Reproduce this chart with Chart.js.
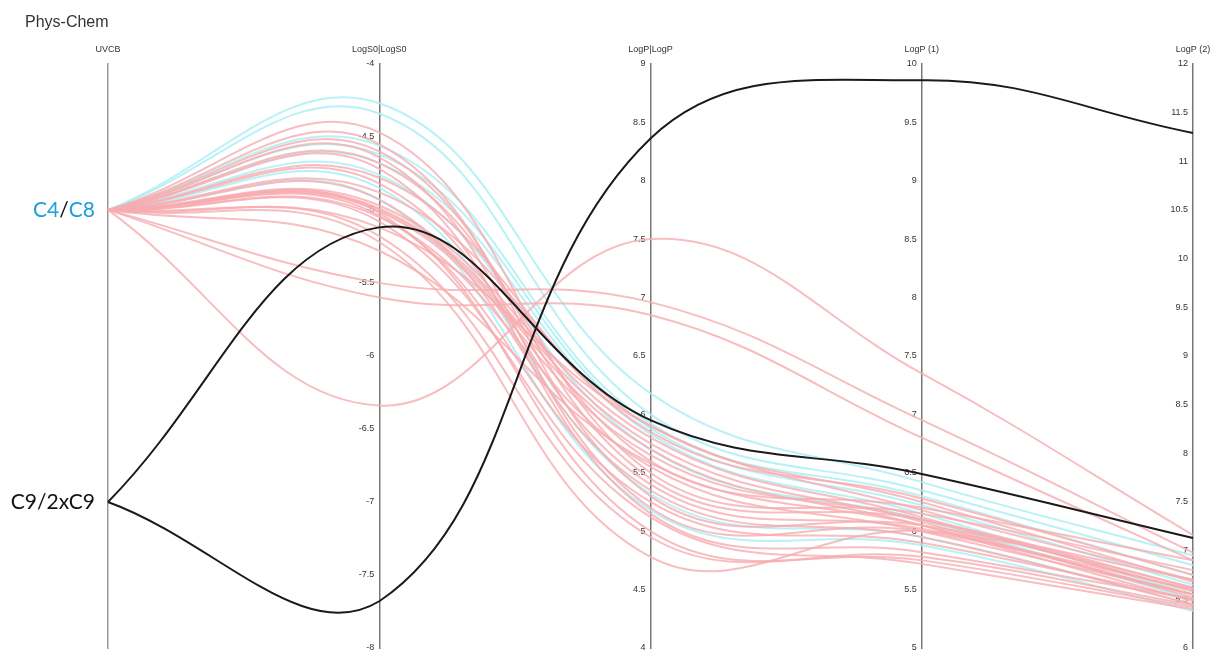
<!DOCTYPE html>
<html>
<head>
<meta charset="utf-8">
<title>Phys-Chem</title>
<script src="https://cdn.jsdelivr.net/npm/chart.js@4.4.1/dist/chart.umd.min.js"></script>
<style>
  html, body { margin: 0; padding: 0; background: #fff; }
  #wrap { position: relative; width: 1210px; height: 650px; }
  #title { position: absolute; left: 25px; top: 13px; font: 16px "Liberation Sans", Arial, sans-serif; color: #333; }
</style>
</head>
<body>
<div id="wrap">
  <canvas id="chart" width="1210" height="650"></canvas>
  <div id="title">Phys-Chem</div>
</div>
<script>
// axes of the parallel plot
const dimensions = ['UVCB', 'LogS0|LogS0', 'LogP|LogP', 'LogP (1)', 'LogP (2)'];
const uvcbGroups = ['C4/C8', 'C9/2xC9'];
const axisMin = [null, -8, 4, 5, 6];
const axisMax = [null, -4, 9, 10, 12];

// one row per compound : UVCB, LogS0, LogP, LogP (1), LogP (2)
const blackRows = [
  ['C9/2xC9', -7.68, 8.36, 9.86, 11.29],
  ['C9/2xC9', -5.12, 5.95, 6.49, 7.13]
];

const cyanRows = [
  ['C4/C8', -4.27, 6.18, 6.42, 6.95],
  ['C4/C8', -4.34, 6.00, 6.35, 6.85],
  ['C4/C8', -4.56, 5.92, 6.30, 6.75],
  ['C4/C8', -4.62, 5.88, 6.22, 6.65],
  ['C4/C8', -4.68, 5.83, 6.15, 6.55],
  ['C4/C8', -4.76, 5.70, 6.10, 6.50],
  ['C4/C8', -4.85, 5.32, 5.95, 6.45],
  ['C4/C8', -4.93, 5.18, 5.88, 6.38]
];

const pinkRows = [
  ['C4/C8', -4.47, 5.50, 6.15, 6.80],
  ['C4/C8', -4.55, 5.30, 6.05, 6.70],
  ['C4/C8', -4.60, 5.45, 6.10, 6.62],
  ['C4/C8', -4.64, 5.20, 6.00, 6.55],
  ['C4/C8', -4.68, 5.60, 6.20, 6.90],
  ['C4/C8', -4.72, 5.15, 5.82, 6.50],
  ['C4/C8', -4.78, 5.85, 6.28, 6.75],
  ['C4/C8', -4.82, 5.40, 6.02, 6.60],
  ['C4/C8', -4.88, 5.90, 6.25, 6.68],
  ['C4/C8', -4.93, 5.35, 5.95, 6.45],
  ['C4/C8', -4.97, 5.80, 6.12, 6.58],
  ['C4/C8', -4.99, 5.75, 6.08, 6.52],
  ['C4/C8', -5.00, 5.70, 6.05, 6.48],
  ['C4/C8', -5.01, 5.65, 6.10, 6.62],
  ['C4/C8', -5.02, 5.00, 5.75, 6.42],
  ['C4/C8', -5.04, 5.25, 5.90, 6.50],
  ['C4/C8', -5.05, 5.55, 6.00, 6.55],
  ['C4/C8', -5.08, 5.12, 5.72, 6.40],
  ['C4/C8', -5.12, 5.90, 6.18, 6.70],
  ['C4/C8', -5.18, 4.95, 5.78, 6.44],
  ['C4/C8', -5.22, 4.78, 6.00, 6.60],
  ['C4/C8', -5.28, 5.58, 6.05, 6.55],
  ['C4/C8', -5.50, 6.96, 6.95, 6.98],
  ['C4/C8', -5.60, 6.85, 6.80, 6.90],
  ['C4/C8', -6.34, 7.50, 7.35, 7.16]
];

const fontFamily = '"Liberation Sans", Arial, sans-serif';

// every axis is brought back to 0..1 so that all lines share one plotting scale
function normalize(row) {
  return row.map((v, i) => {
    if (i === 0) return 1 - (uvcbGroups.indexOf(v) + 0.5) / uvcbGroups.length;
    return (v - axisMin[i]) / (axisMax[i] - axisMin[i]);
  });
}

function makeDataset(row, color, width, order) {
  return {
    data: normalize(row),
    borderColor: color,
    borderWidth: width,
    pointRadius: 0,
    tension: 0.4,
    fill: false,
    clip: false,
    order: order,
    xAxisID: 'x',
    yAxisID: 'yn'
  };
}

const datasets = [
  ...blackRows.map(r => makeDataset(r, '#1a1a1a', 2, 0)),
  ...pinkRows.map(r => makeDataset(r, 'rgba(246, 172, 176, 0.8)', 2, 1)),
  ...cyanRows.map(r => makeDataset(r, 'rgba(172, 238, 244, 0.85)', 2, 1))
];

const noPadY = s => { s.paddingTop = 0; s.paddingBottom = 0; };

const scales = {
  x: {
    type: 'category',
    labels: dimensions,
    position: 'top',
    offset: false,
    grid: { display: false, drawTicks: false },
    border: { display: false },
    ticks: { color: '#333', font: { size: 9, family: fontFamily }, padding: 9, maxRotation: 0, autoSkip: false },
    afterFit: s => { s.paddingLeft = 0; s.paddingRight = 0; }
  },
  yn: { type: 'linear', min: 0, max: 1, display: false },
  y0: {
    type: 'category',
    labels: uvcbGroups,
    offset: true,
    position: { x: 0 },
    grid: { display: false },
    border: { color: '#999', width: 1.5 },
    ticks: { display: false },
    afterFit: noPadY
  }
};

for (let i = 1; i < dimensions.length; i++) {
  scales['y' + i] = {
    type: 'linear',
    min: axisMin[i],
    max: axisMax[i],
    position: { x: i },
    grid: { display: false },
    border: { color: '#777', width: 1.5 },
    ticks: {
      stepSize: 0.5,
      color: '#333',
      font: { size: 9, family: fontFamily },
      callback: v => v + '  '   // a small gap before the axis line
    },
    afterFit: noPadY
  };
}

// group names next to the UVCB axis, C4 and C8 in blue
const groupLabels = {
  id: 'groupLabels',
  afterDraw(chart) {
    const ctx = chart.ctx;
    const scale = chart.scales.y0;
    const right = chart.scales.x.getPixelForValue(0) - 13;
    ctx.save();
    ctx.font = '21px Lato, "Open Sans", sans-serif';
    ctx.textBaseline = 'middle';
    ctx.textAlign = 'left';
    uvcbGroups.forEach((g, i) => {
      const y = scale.getPixelForValue(i);
      const blue = g === 'C4/C8';
      const parts = blue ? g.split(/(\/)/) : [g];
      const total = parts.reduce((s, p) => s + ctx.measureText(p).width, 0);
      let x = right - total;
      parts.forEach(p => {
        ctx.fillStyle = blue && p !== '/' ? '#1ba1d8' : '#111';
        ctx.fillText(p, x, y);
        x += ctx.measureText(p).width;
      });
    });
    ctx.restore();
  }
};

new Chart(document.getElementById('chart'), {
  type: 'line',
  data: { labels: dimensions, datasets: datasets },
  options: {
    responsive: false,
    animation: false,
    layout: { padding: { top: 35, left: 108, right: 17, bottom: 2 } },
    plugins: { legend: { display: false }, tooltip: { enabled: false }, title: { display: false } },
    scales: scales
  },
  plugins: [groupLabels]
});
</script>
</body>
</html>
